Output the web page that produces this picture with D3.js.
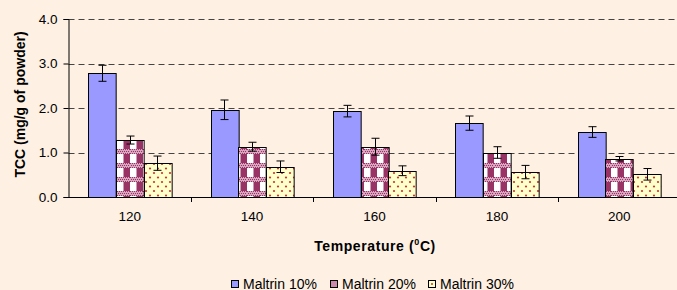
<!DOCTYPE html>
<html><head><meta charset="utf-8">
<script src="https://cdn.jsdelivr.net/npm/d3@7"></script>
<style>
html,body{margin:0;padding:0;background:#FEF0E3;}
svg{display:block;}
text{font-family:"Liberation Sans",Arial,sans-serif;fill:#000;}
</style></head>
<body>
<script>
const categories = ["120","140","160","180","200"];
const seriesNames = ["Maltrin 10%","Maltrin 20%","Maltrin 30%"];
const maltrin10 = [2.78,1.96,1.93,1.66,1.46];
const maltrin20 = [1.28,1.13,1.13,1.00,0.86];
const maltrin30 = [0.76,0.68,0.59,0.56,0.51];
const err10 = [0.18,0.22,0.13,0.16,0.12];
const err20 = [0.09,0.10,0.19,0.13,0.05];
const err30 = [0.16,0.13,0.11,0.15,0.13];
const yTicks = [0,1,2,3,4];

const W=677,H=290;
const svg=d3.select("body").append("svg").attr("width",W).attr("height",H);
const defs=svg.append("defs");

// plaid pattern
const p2=defs.append("pattern").attr("id","plaid").attr("patternUnits","userSpaceOnUse")
  .attr("width",13).attr("height",14).attr("x",0).attr("y",0);
p2.append("rect").attr("width",13).attr("height",14).attr("fill","#fff");
p2.append("rect").attr("x",6.5).attr("y",0).attr("width",6.5).attr("height",9).attr("fill","#993366");
p2.append("rect").attr("x",0).attr("y",9).attr("width",13).attr("height",5).attr("fill","#D9A6BF");
for(let i=0;i<13;i+=2){for(let j=9;j<14;j+=2){p2.append("rect").attr("x",i+((j-9)%4===0?0:1)).attr("y",j).attr("width",1).attr("height",1).attr("fill","#993366");}}
// dots pattern
const p3=defs.append("pattern").attr("id","dots").attr("patternUnits","userSpaceOnUse")
  .attr("width",8).attr("height",9);
p3.append("rect").attr("width",8).attr("height",9).attr("fill","#FFFFCC");
p3.append("circle").attr("cx",2).attr("cy",2).attr("r",1.1).attr("fill","#CC3333");
p3.append("circle").attr("cx",6).attr("cy",6.5).attr("r",1.1).attr("fill","#CC3333");

const fills=["#9999FF","url(#plaid)","url(#dots)"];
const vals=[maltrin10,maltrin20,maltrin30];
const errs=[err10,err20,err30];

const x0=68.5, plotW=612, yTop=19, yBot=197;
const x=d3.scaleBand().domain(categories).range([x0,x0+plotW]).paddingInner(0).paddingOuter(0);
const y=d3.scaleLinear().domain([0,4]).range([yBot,yTop]);
const groupW=83;
const xs=d3.scaleBand().domain(seriesNames).range([0,groupW]).padding(0);

// gridlines
svg.append("g").selectAll("line").data(yTicks.filter(d=>d>0)).join("line")
  .attr("x1",x0).attr("x2",W).attr("y1",d=>Math.round(y(d))+0.5).attr("y2",d=>Math.round(y(d))+0.5)
  .attr("stroke","#444").attr("stroke-width",1).attr("stroke-dasharray","6,4");

// bars
const g=svg.append("g");
seriesNames.forEach((s,si)=>{
  g.append("g").selectAll("rect").data(categories).join("rect")
    .attr("x",(c)=>Math.round(x(c)+(x.bandwidth()-groupW)/2+xs(s))+0.5)
    .attr("y",(c,i)=>Math.round(y(vals[si][i]))+0.5)
    .attr("width",xs.bandwidth())
    .attr("height",(c,i)=>yBot-Math.round(y(vals[si][i])))
    .attr("fill",fills[si]).attr("stroke","#000").attr("stroke-width",1);
});
// error bars
seriesNames.forEach((s,si)=>{
  categories.forEach((c,i)=>{
    const cx=Math.round(x(c)+(x.bandwidth()-groupW)/2+xs(s)+xs.bandwidth()/2)+0.5;
    const t=y(vals[si][i]+errs[si][i]), b=y(vals[si][i]-errs[si][i]);
    g.append("line").attr("x1",cx).attr("x2",cx).attr("y1",t).attr("y2",b).attr("stroke","#000");
    g.append("line").attr("x1",cx-4).attr("x2",cx+4).attr("y1",t).attr("y2",t).attr("stroke","#000");
    g.append("line").attr("x1",cx-4).attr("x2",cx+4).attr("y1",b).attr("y2",b).attr("stroke","#000");
  });
});

// y axis
const ya=d3.axisLeft(y).tickValues(yTicks).tickFormat(d3.format(".1f")).tickSize(5).tickPadding(6);
const yg=svg.append("g").attr("transform",`translate(${x0},0)`).call(ya);
yg.select(".domain").attr("stroke","#000");
yg.selectAll(".tick line").attr("stroke","#000");
yg.selectAll("text").style("font-size","13.5px").attr("fill","#000");

// x axis
const xa=d3.axisBottom(x).tickSize(0).tickPadding(14);
const xg=svg.append("g").attr("transform",`translate(0,${yBot+0.5})`).call(xa);
xg.select(".domain").attr("stroke","#000").attr("d",`M${x0},0H${W}`);
xg.selectAll("text").style("font-size","13.5px").attr("fill","#000");
// category boundary ticks
svg.append("g").selectAll("line").data(categories.slice(1)).join("line")
  .attr("x1",c=>Math.round(x(c))+0.5).attr("x2",c=>Math.round(x(c))+0.5)
  .attr("y1",yBot).attr("y2",yBot+5).attr("stroke","#000");

// axis titles
const xt=svg.append("text").attr("x",375).attr("y",251).attr("text-anchor","middle")
  .style("font-size","14px").style("font-weight","bold").style("letter-spacing","0.6px");
xt.append("tspan").text("Temperature (");
xt.append("tspan").attr("dy",-6).style("font-size","9px").text("0");
xt.append("tspan").attr("dy",6).text("C)");

svg.append("text").attr("transform","translate(25,104.5) rotate(-90)").attr("text-anchor","middle")
  .style("font-size","14px").style("font-weight","bold").text("TCC (mg/g of powder)");

// legend
const legX=[231,330,428];
const leg=svg.append("g");
seriesNames.forEach((s,i)=>{
  leg.append("rect").attr("x",legX[i]+0.5).attr("y",280.5).attr("width",7).attr("height",7)
    .attr("fill",i===0?"#9999FF":(i===1?"#CC88AA":"#FFFFCC")).attr("stroke","#000");
  if(i===2) leg.append("circle").attr("cx",legX[i]+4).attr("cy",284).attr("r",1).attr("fill","#CC3333");
  leg.append("text").attr("x",legX[i]+12).attr("y",288.5).style("font-size","14px").text(s);
});
</script>
</body></html>
